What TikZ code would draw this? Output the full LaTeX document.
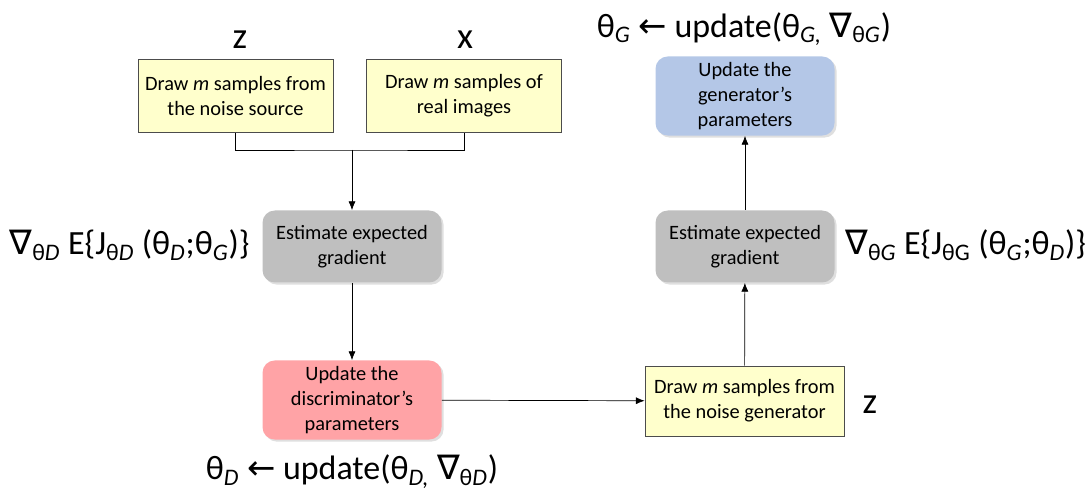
\documentclass[tikz,border=0pt]{standalone}
\usepackage{fontspec}
\setmainfont{Carlito}
\newfontfamily\symfam{DejaVu Sans}
\usetikzlibrary{arrows.meta,positioning,shadows}

\definecolor{yelfill}{HTML}{FFFFCC}
\definecolor{grayfill}{HTML}{BFBFBF}
\definecolor{pinkfill}{HTML}{FFA3A6}
\definecolor{bluefill}{HTML}{B4C7E7}
\newcommand{\nab}{{\symfam ∇}}
\newcommand{\lar}{{\symfam ←}}
\newcommand{\sbs}[1]{\textsubscript{#1}}

\begin{document}
\begin{tikzpicture}[>={Latex[length=5pt,width=4pt]},
    yelbox/.style={draw=black!70,fill=yelfill,align=center,font=\fontsize{11.6}{14.2}\selectfont,minimum width=3.9cm,minimum height=1.46cm},
    rbox/.style={rounded corners=7pt,align=center,font=\fontsize{11.6}{14.2}\selectfont,minimum width=3.58cm,minimum height=1.44cm,drop shadow={shadow xshift=1.2pt,shadow yshift=-1.2pt,opacity=0.25}},
    biglbl/.style={font=\fontsize{19.3}{22}\selectfont,inner sep=0pt},
    varlbl/.style={font=\fontsize{21}{24}\selectfont,inner sep=0pt}]
    \useasboundingbox (0,0) rectangle (21.78,-9.82);
    \node[yelbox] (ns) at (4.71,-1.92) {Draw \textit{m} samples from\\the noise source};
    \node[yelbox] (ri) at (9.28,-1.92) {Draw \textit{m} samples of\\real images};
    \node[rbox,fill=grayfill] (ged) at (7.04,-4.93) {Estimate expected\\gradient};
    \node[rbox,fill=pinkfill] (upd) at (7.04,-8.0) {Update the\\discriminator’s\\parameters};
    \node[yelbox,minimum width=3.98cm,minimum height=1.4cm] (ng) at (14.89,-8.02) {Draw \textit{m} samples from\\the noise generator};
    \node[rbox,fill=grayfill] (geg) at (14.9,-4.93) {Estimate expected\\gradient};
    \node[rbox,fill=bluefill,minimum height=1.48cm] (upg) at (14.9,-1.92) {Update the\\generator’s\\parameters};
    % labels
    \node[varlbl] (lz) at (4.8,-0.8) {z};
    \node[varlbl] (lx) at (9.3,-0.8) {x};
    \node[varlbl] (lzr) at (17.4,-8.1) {z};
    \node[biglbl,anchor=east] (gd) at (5.0,-4.9) {\nab\sbs{θ\textit{D}} E\{J\sbs{θ\textit{D}} (θ\sbs{\textit{D}};θ\sbs{\textit{G}})\}};
    \node[biglbl,anchor=west] (gg) at (16.9,-4.9) {\nab\sbs{θ\textit{G}} E\{J\sbs{θG} (θ\sbs{\textit{G}};θ\sbs{\textit{D}})\}};
    \node[biglbl] (ug) at (14.88,-0.58) {θ\sbs{\textit{G}} \lar{} update(θ\sbs{\textit{G,}} \nab\sbs{θ\textit{G}})};
    \node[biglbl] (ud) at (7.04,-9.43) {θ\sbs{\textit{D}} \lar{} update(θ\sbs{\textit{D,}} \nab\sbs{θ\textit{D}})};
    % connectors
    \coordinate (jn) at (7.04,-3.0);
    \draw (ns.south) |- (jn) -| (ri.south);
    \draw[->] (jn) -- (ged.north);
    \draw[->] (ged) -- (upd);
    \draw[->] (upd) -- (ng);
    \draw[->] (ng) -- (geg);
    \draw[->] (geg) -- (upg);
\end{tikzpicture}
\end{document}
